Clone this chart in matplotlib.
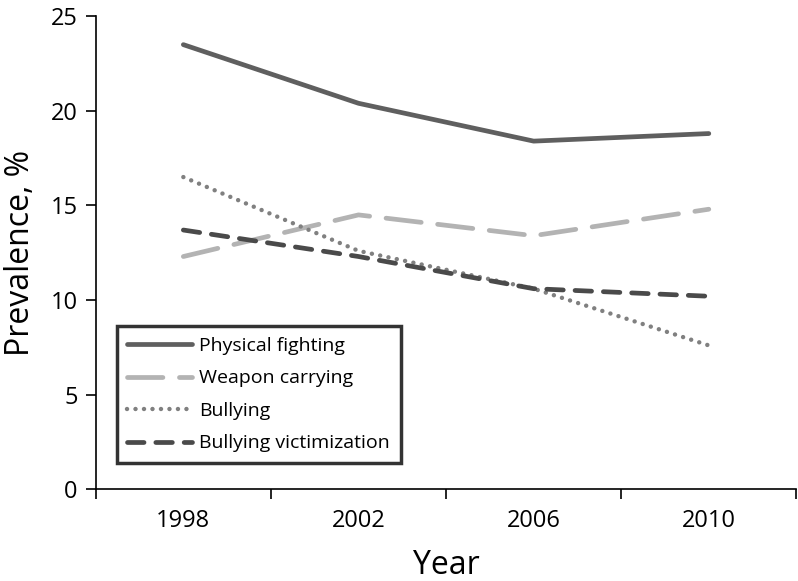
import numpy as np
import matplotlib
matplotlib.use("Agg")
import matplotlib.pyplot as plt

years = ["1998", "2002", "2006", "2010"]
physical_fighting = [23.5, 20.4, 18.4, 18.8]
weapon_carrying = [12.3, 14.5, 13.4, 14.8]
bullying = [16.5, 12.6, 10.6, 7.6]
bullying_victim = [13.7, 12.3, 10.6, 10.2]

plt.rcParams['font.family'] = ['Open Sans', 'DejaVu Sans']

fig = plt.figure(figsize=(7.98, 5.81), dpi=100)
ax = fig.add_axes([0.120, 0.158, 0.878, 0.814])

x = np.arange(len(years))
ax.plot(x, physical_fighting, color='#5f5f5f', lw=3.4, solid_capstyle='round',
        label="Physical fighting")
ax.plot(x, weapon_carrying, color='#b3b3b3', lw=3.4, dashes=(7.5, 3.5),
        dash_capstyle='round', label="Weapon carrying")
ax.plot(x, bullying, color='#808080', lw=3.2, dashes=(0.01, 1.9),
        dash_capstyle='round', label="Bullying")
ax.plot(x, bullying_victim, color='#4a4a4a', lw=3.4, dashes=(3.5, 2.5),
        dash_capstyle='round', label="Bullying victimization")

ax.set_xlim(-0.5, 3.5)
ax.set_ylim(0, 25)
ax.set_yticks(range(0, 26, 5))
ax.set_xticks(x)
ax.set_xticklabels(years)
ax.set_xticks(np.arange(-0.5, 3.6, 1), minor=True)
ax.tick_params(axis='x', which='major', length=0, pad=14, labelsize=17)
ax.tick_params(axis='x', which='minor', length=7, width=1.2, direction='out')
ax.tick_params(axis='y', length=7, width=1.2, direction='out', labelsize=17, pad=6)

for s in ['top', 'right']:
    ax.spines[s].set_visible(False)
for s in ['left', 'bottom']:
    ax.spines[s].set_linewidth(1.2)

ax.set_xlabel("Year", fontsize=23, labelpad=12)
ax.set_ylabel("Prevalence, %", fontsize=23, labelpad=10)

leg = ax.legend(loc='lower left', bbox_to_anchor=(0.03, 0.055), borderaxespad=0,
                fontsize=14, frameon=True, fancybox=False, handlelength=3.3,
                labelspacing=0.75, borderpad=0.55, handletextpad=0.4)
leg.get_frame().set_edgecolor('black')
leg.get_frame().set_linewidth(2.5)

fig.savefig("out.png", dpi=100)
